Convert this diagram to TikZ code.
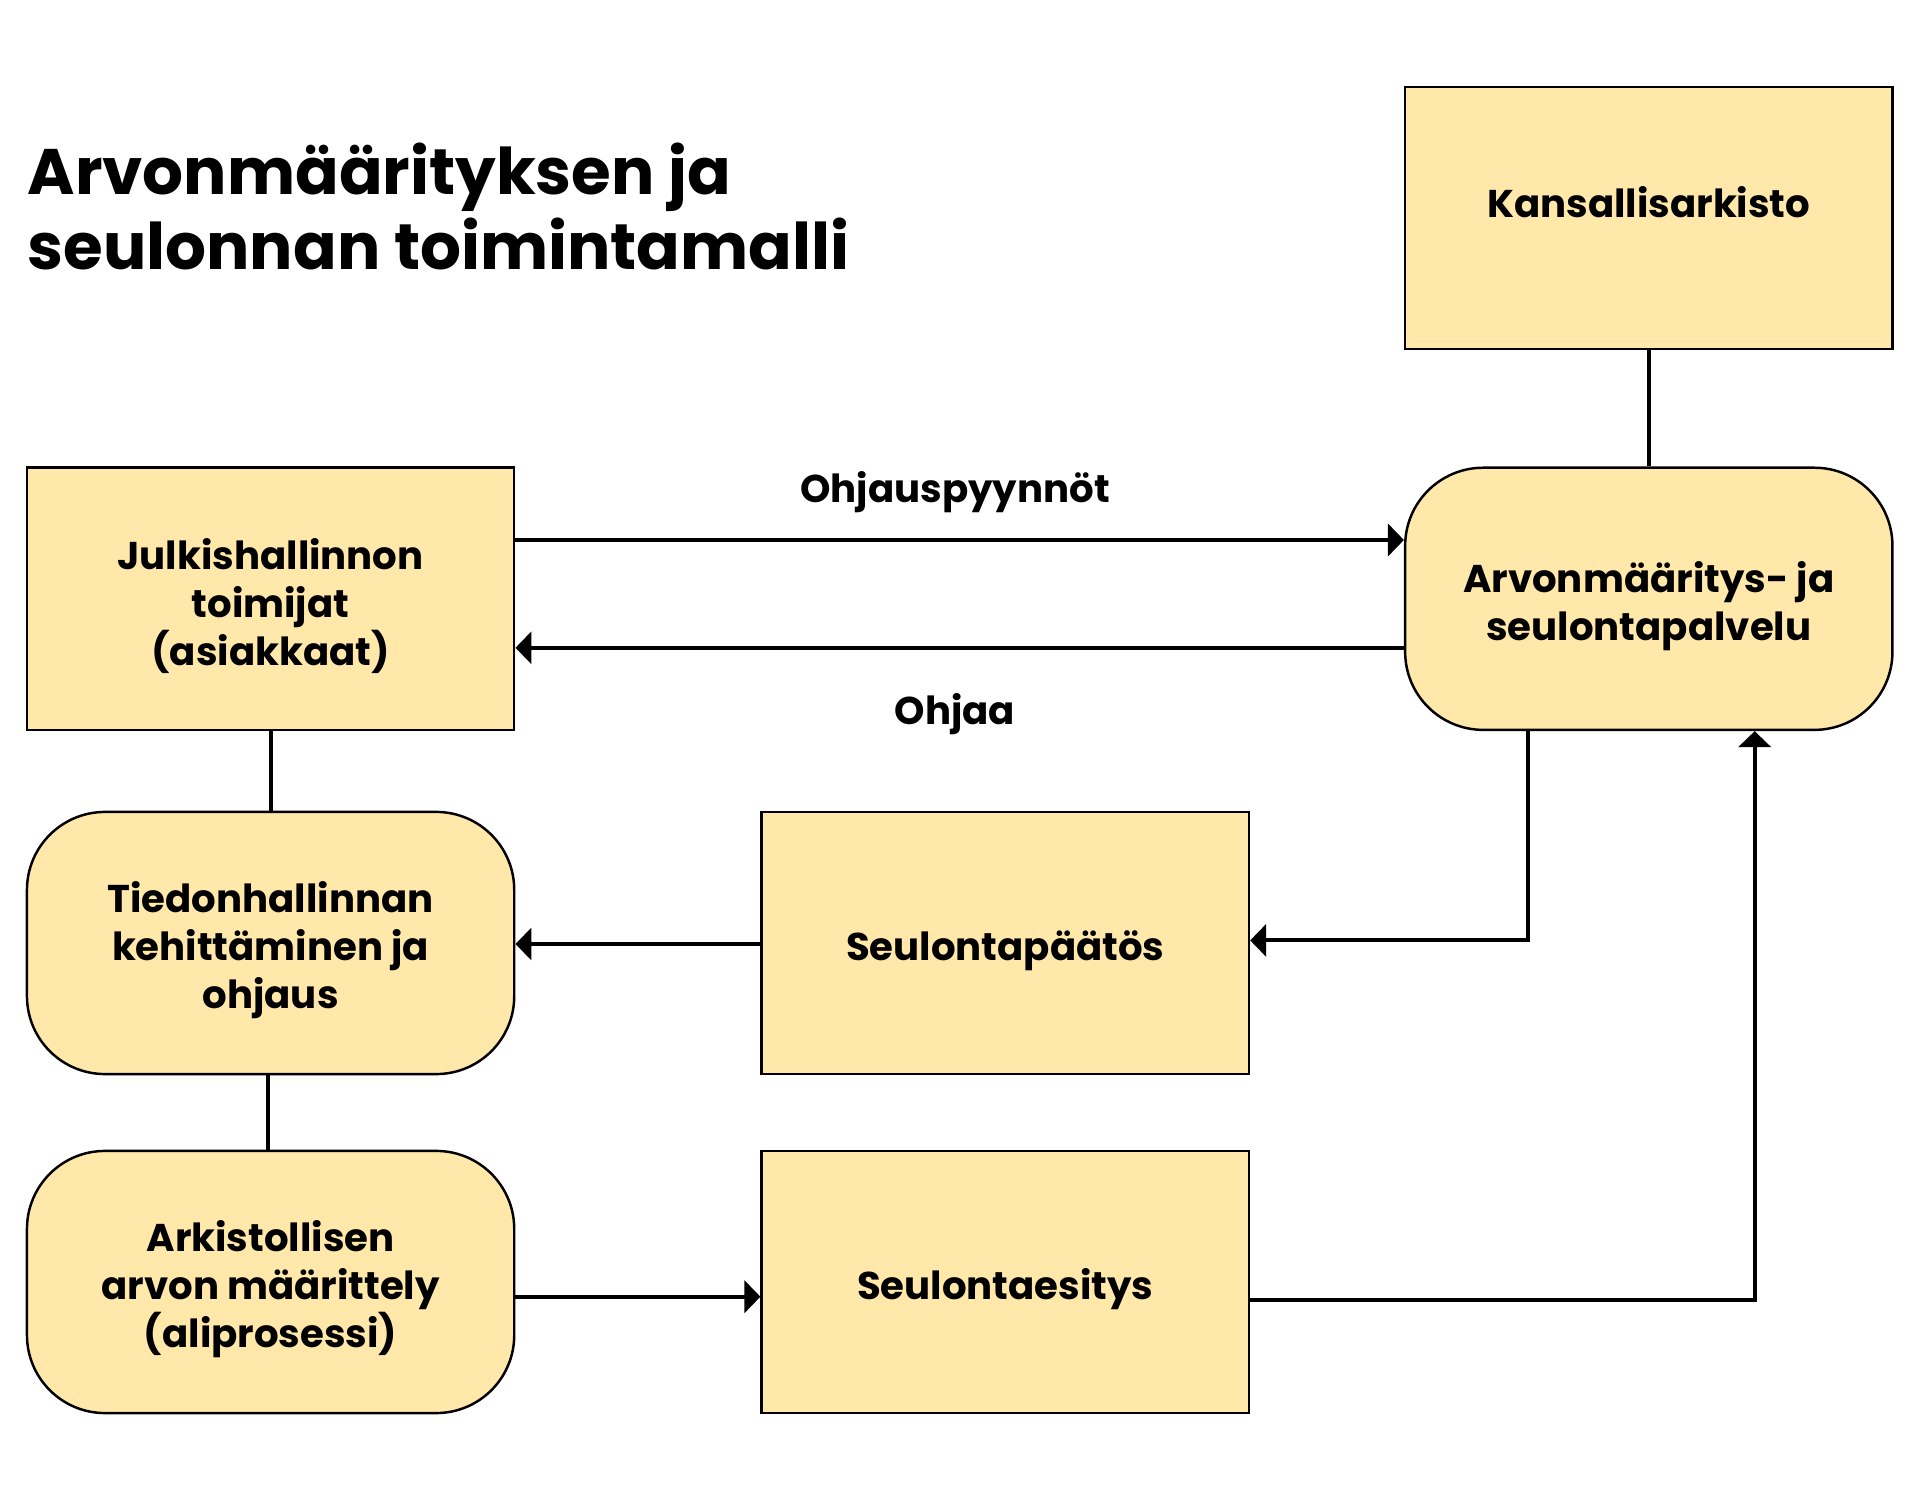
\documentclass[tikz,border=0pt]{standalone}
\usepackage{fontspec}
\setmainfont{Poppins}
\usetikzlibrary{arrows.meta}
\definecolor{boxfill}{HTML}{FFE8AA}
\newcommand{\topstrut}{\rule{0pt}{13pt}}
\newcommand{\botstrut}{\rule[-9pt]{0pt}{9pt}}
\tikzset{
  base/.style={draw=black, line width=0.7pt, fill=boxfill, minimum width=4.87cm, minimum height=2.62cm, align=center, inner sep=0pt,
    font=\fontsize{11}{13.6}\selectfont\bfseries},
  sqbox/.style={base},
  rbox/.style={base, rounded corners=0.78cm},
  conn/.style={line width=1.1pt},
  arr/.style={conn, -{Triangle[length=0.16cm,width=0.32cm]}},
  lbl/.style={font=\fontsize{11}{13.6}\selectfont\bfseries, inner sep=0pt}
}
\begin{document}
\begin{tikzpicture}[x=0.01cm, y=-0.01cm]
\useasboundingbox (0,0) rectangle (1920,1500);
\node[anchor=base west, align=left, inner sep=0pt, font=\fontsize{18.3}{21.6}\selectfont\bfseries] (title) at (27,270) {Arvonmäärityksen ja\\seulonnan toimintamalli};

\node[sqbox] (kans) at (1648.8,218) {Kansallisarkisto\botstrut};
\node[sqbox] (julk) at (270.6,598.8) {\topstrut Julkishallinnon\\toimijat\\(asiakkaat)};
\node[rbox] (arvo) at (1648.8,598.8) {\topstrut Arvonmääritys- ja\\seulontapalvelu};
\node[rbox] (tied) at (270.6,943) {\topstrut Tiedonhallinnan\\kehittäminen ja\\ohjaus};
\node[sqbox] (paat) at (1005.3,943) {\topstrut Seulontapäätös};
\node[rbox] (arki) at (270.6,1282) {\topstrut Arkistollisen\\arvon määrittely\\(aliprosessi)};
\node[sqbox] (esit) at (1005.3,1282) {\topstrut Seulontaesitys};

\node[lbl] (l1) at (955,492.6) {Ohjauspyynnöt};
\node[lbl] (l2) at (955,714) {Ohjaa};

\draw[arr] (julk.east |- 0,540) -- (arvo.west |- 0,540);
\draw[arr] (arvo.west |- 0,647.8) -- (julk.east |- 0,647.8);
\draw[conn] (kans.south) -- (arvo.north);
\draw[conn] (julk.south) -- (tied.north);
\draw[conn] (tied.south -| 268,0) -- (arki.north -| 268,0);
\coordinate (c1) at (1528,940.4);
\draw[arr] (arvo.south -| c1) -- (c1) -- (paat.east |- c1);
\draw[arr] (paat.west |- 0,944) -- (tied.east |- 0,944);
\draw[arr] (arki.east |- 0,1296.7) -- (esit.west |- 0,1296.7);
\coordinate (c2) at (1754.7,1300.4);
\draw[arr] (esit.east |- c2) -- (c2) -- (arvo.south -| c2);
\end{tikzpicture}
\end{document}
